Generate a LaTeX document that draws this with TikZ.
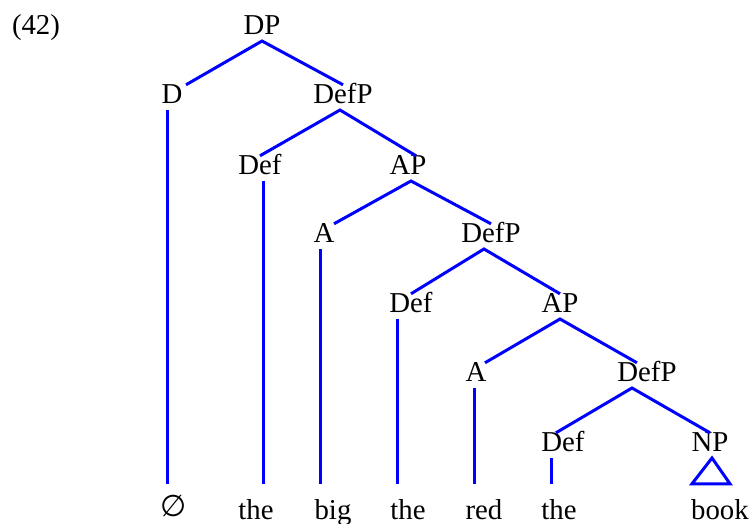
\documentclass[tikz,border=0pt]{standalone}
\usepackage{fontspec}
\setmainfont{Liberation Serif}
\newfontfamily\symfont{DejaVu Sans}
\begin{document}
\begin{tikzpicture}[x=0.5pt,y=-0.5pt,
        cat/.style={anchor=base,inner xsep=1pt,inner ysep=2.8pt,
          text height=0.66em,text depth=0pt,font=\fontsize{14.4}{17}\selectfont},
        branch/.style={draw=blue,line width=1.5pt},
        leaf/.style={branch,shorten >=8.5pt}]
        \useasboundingbox (0,0) rectangle (752,524);
        \node[cat] (ex) at (36,35) {(42)};
        % categories
        \node[cat] (dp) at (262,35) {DP};
        \node[cat] (d) at (172,104) {D};
        \node[cat] (defpa) at (343,104) {DefP};
        \node[cat] (defa) at (260,175) {Def};
        \node[cat] (apa) at (408,175) {AP};
        \node[cat] (aa) at (324,243) {A};
        \node[cat] (defpb) at (491,243) {DefP};
        \node[cat] (defb) at (411,313) {Def};
        \node[cat] (apb) at (560,313) {AP};
        \node[cat] (ab) at (476,382) {A};
        \node[cat] (defpc) at (647,382) {DefP};
        \node[cat] (defc) at (563,452) {Def};
        \node[cat] (np) at (710,452) {NP};
        % words
        \node[cat] (w1) at (174,520) {\raisebox{1.5pt}{\symfont\fontsize{15}{17}\selectfont ∅}};
        \node[cat] (w2) at (256,520) {the};
        \node[cat] (w3) at (333,520) {big};
        \node[cat] (w4) at (408,520) {the};
        \node[cat] (w5) at (484,520) {red};
        \node[cat] (w6) at (559,520) {the};
        \node[cat] (w7) at (720,520) {book};
        % branches
        \draw[branch] ([xshift=7pt]d.north) -- (dp.south) -- (defpa.north);
        \draw[branch] (defa.north) -- ([xshift=-1.5pt]defpa.south) -- ([xshift=4pt]apa.north);
        \draw[branch] ([xshift=5pt]aa.north) -- ([xshift=1.5pt]apa.south) -- (defpb.north);
        \draw[branch] (defb.north) -- ([xshift=-3.5pt]defpb.south) -- (apb.north);
        \draw[branch] ([xshift=4.5pt]ab.north) -- (apb.south) -- ([xshift=-5pt]defpc.north);
        \draw[branch] ([xshift=-3.5pt]defc.north) -- ([xshift=-7.5pt]defpc.south) -- (np.north);
        % leaves
        \draw[leaf] ([xshift=-2.5pt]d.south) -- ([xshift=-2.5pt]d.south |- w1.north);
        \draw[leaf] ([xshift=1.5pt]defa.south) -- ([xshift=1.5pt]defa.south |- w2.north);
        \draw[leaf] ([xshift=-2pt]aa.south) -- ([xshift=-2pt]aa.south |- w3.north);
        \draw[leaf] ([xshift=-7pt]defb.south) -- ([xshift=-7pt]defb.south |- w4.north);
        \draw[leaf] ([xshift=-1pt]ab.south) -- ([xshift=-1pt]ab.south |- w5.north);
        \draw[leaf] ([xshift=-6pt]defc.south) -- ([xshift=-6pt]defc.south |- w6.north);
        \coordinate (npl) at ([xshift=-9pt,yshift=8.5pt]np.south |- w7.north);
        \coordinate (npr) at ([xshift=10pt,yshift=8.5pt]np.south |- w7.north);
        \draw[branch] ([xshift=1pt]np.south) -- (npl) -- (npr) -- cycle;
      \end{tikzpicture}
\end{document}
